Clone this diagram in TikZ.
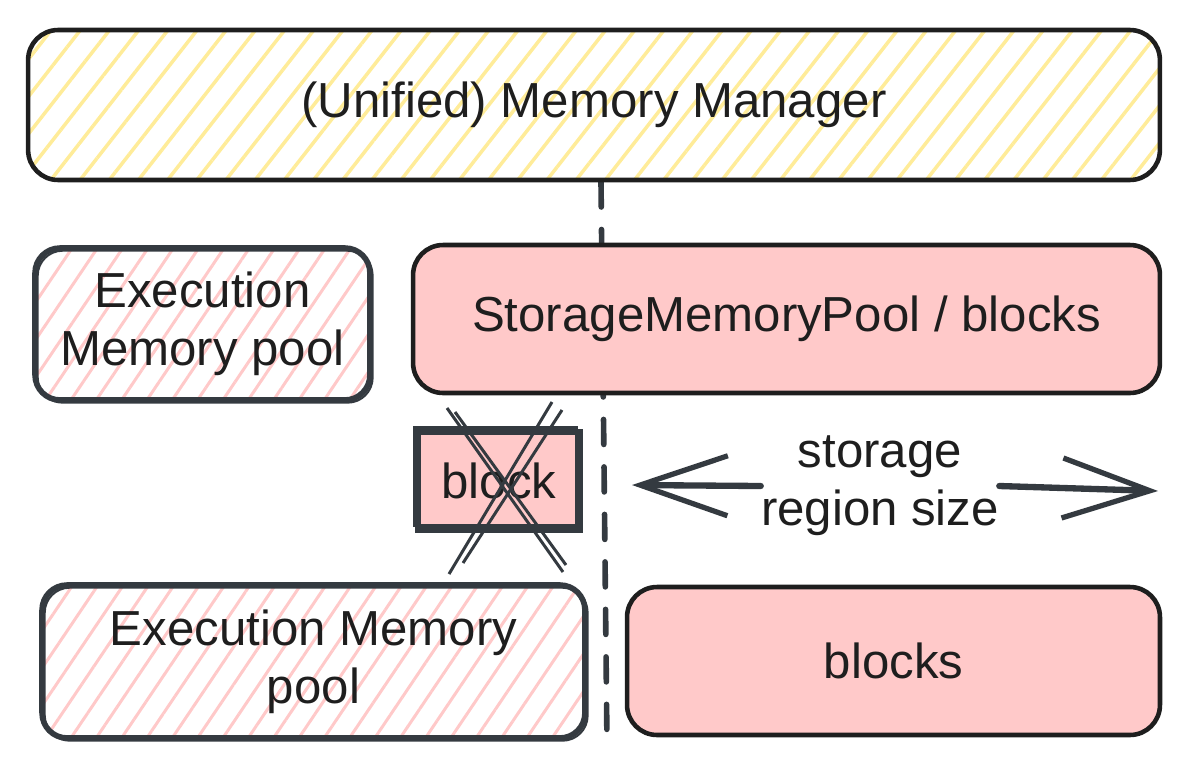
\documentclass[tikz,border=0pt]{standalone}
\usepackage{fontspec}
\setmainfont{Liberation Sans}
\usetikzlibrary{arrows.meta,positioning,patterns.meta}
\definecolor{ink}{HTML}{1E1E1E}
\definecolor{slate}{HTML}{343A40}
\definecolor{rosefill}{HTML}{FFC9C9}
\definecolor{hatchyellow}{HTML}{FFEC99}

\begin{document}
\begin{tikzpicture}[x=0.02cm, y=-0.02cm,
    every node/.style={font=\fontsize{28pt}{33pt}\selectfont, text=ink},
    box/.style={rectangle, draw=ink, line width=2.6pt, rounded corners=0.6cm, align=center},
    yellowhatch/.style={box, pattern={Lines[angle=52,distance=0.46cm,line width=0.07cm]}, pattern color=hatchyellow},
    rosehatch/.style={box, draw=slate, line width=3.2pt, rounded corners=0.5cm, pattern={Lines[angle=56,distance=0.42cm,line width=0.06cm]}, pattern color=rosefill,
        postaction={draw=slate, line width=1.2pt, transform canvas={shift={(1.5pt,-1.5pt)}}}},
    rosebox/.style={box, fill=rosefill},
    crossline/.style={draw=slate, line width=1.7pt},
    bigarrow/.style={draw=slate, line width=3.6pt, line cap=round, -{Straight Barb[length=1.75cm, width=1.2cm, line width=3pt]}},
]
    \useasboundingbox (0,0) rectangle (1189,768);

    % dashed divider behind the boxes
    \coordinate (dtop) at (601,182);
    \coordinate (dbot) at (607,745);
    \draw[slate, line width=3.2pt, line cap=round, dash pattern=on 0.5cm off 0.45cm] (dtop) -- (dbot);

    \node[yellowhatch, minimum width=22.64cm, minimum height=3cm] (mgr) at (594,105) {(Unified) Memory Manager};
    \node[rosehatch, minimum width=6.7cm, minimum height=3.04cm] (execA) at (202.5,324) {Execution\\Memory pool};
    \node[rosebox, minimum width=14.94cm, minimum height=2.96cm] (storage) at (786.5,319) {StorageMemoryPool / blocks};
    \node[rosebox, draw=slate, sharp corners, line width=3.4pt, minimum width=3.24cm, minimum height=1.96cm,
        postaction={draw=slate, line width=1.6pt, transform canvas={shift={(-2pt,2.5pt)}}}] (blk) at (499,481) {block};
    \node[rosehatch, minimum width=10.86cm, minimum height=3.06cm] (execB) at (313.5,661.5) {Execution Memory\\pool};
    \node[rosebox, minimum width=10.66cm, minimum height=2.96cm] (blocks) at (893.5,661) {blocks};

    % crossed-out block
    \coordinate (xa1) at (447,408); \coordinate (xa2) at (563,572);
    \coordinate (xb1) at (455,412); \coordinate (xb2) at (566,565);
    \coordinate (xc1) at (552,402); \coordinate (xc2) at (449,574);
    \coordinate (xd1) at (562,410); \coordinate (xd2) at (463,563);
    \draw[crossline] (xa1) -- (xa2);
    \draw[crossline] (xb1) -- (xb2);
    \draw[crossline] (xc1) -- (xc2);
    \draw[crossline] (xd1) -- (xd2);

    % storage region size
    \node[inner sep=0pt, align=center] (region) at (880,486) {storage\\region size};
    \coordinate (lend) at (632,485);
    \coordinate (rend) at (1158,491);
    \draw[bigarrow] (region.west) -- (lend);
    \draw[bigarrow] (region.east) -- (rend);
\end{tikzpicture}
\end{document}
